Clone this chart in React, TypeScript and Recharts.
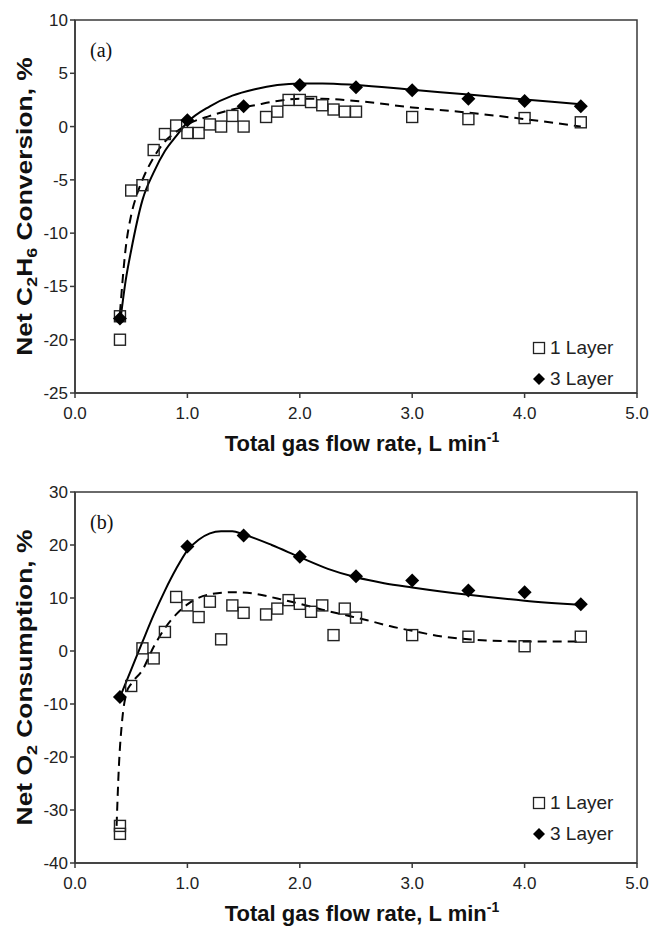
import React from 'react';
import {
  ComposedChart,
  Line,
  Scatter,
  XAxis,
  YAxis,
  ReferenceArea,
  Legend,
} from 'recharts';

const xTicks = [0, 1, 2, 3, 4, 5];
const c2h6Ticks = [-25, -20, -15, -10, -5, 0, 5, 10];
const o2Ticks = [-40, -30, -20, -10, 0, 10, 20, 30];

// (a) Net C2H6 conversion, %
const c2h6OneX = [0.4, 0.4, 0.5, 0.6, 0.7, 0.8, 0.9, 1.0, 1.1, 1.2, 1.3, 1.4, 1.5, 1.7, 1.8, 1.9, 2.0, 2.1, 2.2, 2.3, 2.4, 2.5, 3.0, 3.5, 4.0, 4.5];
const c2h6OneY = [-17.8, -20.0, -6.0, -5.5, -2.2, -0.7, 0.1, -0.6, -0.6, 0.2, 0.0, 1.0, 0.0, 0.9, 1.4, 2.5, 2.5, 2.3, 2.0, 1.6, 1.4, 1.4, 0.9, 0.7, 0.8, 0.4];
const c2h6ThreeX = [0.4, 1.0, 1.5, 2.0, 2.5, 3.0, 3.5, 4.0, 4.5];
const c2h6ThreeY = [-18.0, 0.6, 1.9, 3.9, 3.7, 3.4, 2.6, 2.4, 1.9];

// fitted curves
const c2h6OneFitX = [0.4, 0.45, 0.5, 0.55, 0.6, 0.7, 0.8, 0.9, 1.0, 1.2, 1.4, 1.6, 1.8, 2.0, 2.2, 2.5, 3.0, 3.5, 4.0, 4.5];
const c2h6OneFitY = [-17.5, -11.5, -8.3, -6.4, -5.0, -2.9, -1.4, -0.5, 0.2, 1.0, 1.6, 2.0, 2.4, 2.6, 2.6, 2.4, 1.8, 1.3, 0.7, 0.0];
const c2h6ThreeFitX = [0.4, 0.45, 0.5, 0.6, 0.7, 0.8, 0.9, 1.0, 1.2, 1.4, 1.6, 1.8, 2.0, 2.2, 2.5, 3.0, 3.5, 4.0, 4.5];
const c2h6ThreeFitY = [-18.5, -14.5, -11.6, -6.9, -4.3, -2.3, -0.9, 0.4, 1.9, 2.9, 3.5, 3.9, 4.05, 4.05, 3.9, 3.45, 3.0, 2.55, 2.1];

// (b) Net O2 consumption, %
const o2OneX = [0.4, 0.4, 0.5, 0.6, 0.7, 0.8, 0.9, 1.0, 1.1, 1.2, 1.3, 1.4, 1.5, 1.7, 1.8, 1.9, 2.0, 2.1, 2.2, 2.3, 2.4, 2.5, 3.0, 3.5, 4.0, 4.5];
const o2OneY = [-33.0, -34.5, -6.6, 0.5, -1.4, 3.6, 10.2, 8.6, 6.4, 9.3, 2.2, 8.6, 7.2, 6.9, 8.0, 9.6, 8.9, 7.4, 8.6, 3.0, 8.0, 6.3, 3.0, 2.7, 0.9, 2.7];
const o2ThreeX = [0.4, 1.0, 1.5, 2.0, 2.5, 3.0, 3.5, 4.0, 4.5];
const o2ThreeY = [-8.7, 19.7, 21.8, 17.8, 14.1, 13.3, 11.4, 11.1, 8.8];

const o2OneFitX = [0.37, 0.39, 0.42, 0.46, 0.5, 0.6, 0.7, 0.8, 0.9, 1.0, 1.2, 1.4, 1.6, 1.8, 2.0, 2.2, 2.4, 2.6, 2.8, 3.0, 3.25, 3.5, 4.0, 4.5];
const o2OneFitY = [-33, -22, -13, -7.8, -6.2, -3.6, 0.8, 4.3, 6.9, 8.8, 10.7, 11.1, 10.8, 9.9, 8.9, 7.8, 6.8, 5.8, 4.7, 3.8, 2.8, 2.2, 1.8, 1.8];
const o2ThreeFitX = [0.4, 0.5, 0.6, 0.7, 0.8, 0.9, 1.0, 1.1, 1.2, 1.3, 1.4, 1.5, 1.75, 2.0, 2.25, 2.5, 2.75, 3.0, 3.5, 4.0, 4.5];
const o2ThreeFitY = [-8.7, -3.5, 1.7, 6.8, 11.4, 15.5, 19.0, 21.0, 22.2, 22.6, 22.6, 22.0, 20.0, 17.7, 15.5, 13.9, 12.8, 12.0, 10.6, 9.5, 8.7];

const zip = (xs: number[], ys: number[]) => xs.map((x, i) => ({ x, y: ys[i] }));

const SANS = '"Liberation Sans", Arial, sans-serif';
const SERIF = '"Liberation Serif", "Times New Roman", serif';
const AXIS = '#3a3a3a';

const SquareDot = (props: any) => {
  const { cx, cy } = props;
  if (cx == null || cy == null) return null;
  return <rect x={cx - 5.5} y={cy - 5.5} width={11} height={11} fill="none" stroke="#222" strokeWidth={1.4} />;
};

const DiamondDot = (props: any) => {
  const { cx, cy } = props;
  if (cx == null || cy == null) return null;
  const r = 7;
  return <polygon points={`${cx},${cy - r} ${cx + r},${cy} ${cx},${cy + r} ${cx - r},${cy}`} fill="#000" />;
};

const LegendBox = () => (
  <div style={{ fontFamily: SANS, fontSize: 19, color: '#222', lineHeight: '31px' }}>
    <div style={{ display: 'flex', alignItems: 'center' }}>
      <svg width={18} height={14} style={{ marginRight: 2 }}>
        <rect x={3.5} y={1.5} width={11} height={11} fill="none" stroke="#222" strokeWidth={1.3} />
      </svg>
      <span>1 Layer</span>
    </div>
    <div style={{ display: 'flex', alignItems: 'center' }}>
      <svg width={18} height={14} style={{ marginRight: 2 }}>
        <polygon points="9,1 15,7 9,13 3,7" fill="#000" />
      </svg>
      <span>3 Layer</span>
    </div>
  </div>
);

const XTitle = ({ viewBox }: any) => (
  <text
    x={viewBox.x + viewBox.width / 2 + 6}
    y={viewBox.y + 58}
    textAnchor="middle"
    fontFamily={SANS}
    fontWeight="bold"
    fontSize={22}
    fill="#111"
  >
    Total gas flow rate, L min
    <tspan dy={-9} fontSize={14}>-1</tspan>
  </text>
);

// vertical titles are stretched along their length, as in the source figure
const yTitleTransform = (viewBox: any) => {
  const x = 32;
  const y = viewBox.y + viewBox.height / 2;
  return `translate(${x}, ${y}) rotate(-90) scale(1.2, 1)`;
};

const C2H6Title = ({ viewBox }: any) => (
  <text x={0} y={0} transform={yTitleTransform(viewBox)} textAnchor="middle" fontFamily={SANS} fontWeight="bold" fontSize={22} fill="#111">
    Net C<tspan dy={5} fontSize={15}>2</tspan>
    <tspan dy={-5}>H</tspan>
    <tspan dy={5} fontSize={15}>6</tspan>
    <tspan dy={-5}> Conversion, %</tspan>
  </text>
);

const O2Title = ({ viewBox }: any) => (
  <text x={0} y={0} transform={yTitleTransform(viewBox)} textAnchor="middle" fontFamily={SANS} fontWeight="bold" fontSize={22} fill="#111">
    Net O<tspan dy={5} fontSize={15}>2</tspan>
    <tspan dy={-5}> Consumption, %</tspan>
  </text>
);

const tagLabel = (tag: string) => ({ viewBox }: any) => (
  <text x={viewBox.x + 15} y={viewBox.y + 37} fontFamily={SERIF} fontSize={20} fill="#111">
    {tag}
  </text>
);

interface PanelProps {
  height: number;
  top: number;
  xAxisHeight: number;
  yDomain: [number, number];
  yTicks: number[];
  oneLayer: { x: number; y: number }[];
  threeLayer: { x: number; y: number }[];
  oneFit: { x: number; y: number }[];
  threeFit: { x: number; y: number }[];
  tag: string;
  yTitle: (p: any) => React.ReactElement;
  legendTop: number;
}

function Panel(p: PanelProps) {
  const tickStyle = { fontFamily: SANS, fontSize: 17, fill: '#222' };
  return (
    <ComposedChart width={649} height={p.height} margin={{ top: p.top, right: 12, left: 0, bottom: 0 }}>
      <XAxis
        type="number"
        dataKey="x"
        domain={[0, 5]}
        ticks={xTicks}
        tickFormatter={(v: number) => v.toFixed(1)}
        height={p.xAxisHeight}
        stroke={AXIS}
        strokeWidth={1.5}
        tickSize={5}
        tickMargin={9}
        tick={tickStyle}
        allowDataOverflow
        label={{ content: XTitle }}
      />
      <YAxis
        type="number"
        dataKey="y"
        domain={p.yDomain}
        ticks={p.yTicks}
        width={75}
        stroke={AXIS}
        strokeWidth={1.5}
        tickSize={5}
        tickMargin={2}
        tick={tickStyle}
        allowDataOverflow
        label={{ content: p.yTitle }}
      />
      <ReferenceArea
        x1={0}
        x2={5}
        y1={p.yDomain[0]}
        y2={p.yDomain[1]}
        fill="none"
        stroke={AXIS}
        strokeWidth={1.5}
        label={{ content: tagLabel(p.tag) }}
      />
      <Line data={p.oneFit} dataKey="y" type="monotone" stroke="#000" strokeWidth={2} strokeDasharray="9 6" dot={false} activeDot={false} isAnimationActive={false} />
      <Line data={p.threeFit} dataKey="y" type="monotone" stroke="#000" strokeWidth={2} dot={false} activeDot={false} isAnimationActive={false} />
      <Scatter name="1 Layer" data={p.oneLayer} dataKey="y" shape={SquareDot} isAnimationActive={false} />
      <Scatter name="3 Layer" data={p.threeLayer} dataKey="y" shape={DiamondDot} isAnimationActive={false} />
      <Legend
        layout="horizontal"
        align="center"
        verticalAlign="middle"
        content={LegendBox}
        wrapperStyle={{ left: 530, top: p.legendTop, width: 110, height: 62 }}
      />
    </ComposedChart>
  );
}

export default function App() {
  return (
    <div style={{ position: 'absolute', left: 0, top: 0, width: 649, height: 927, background: '#fff' }}>
      <Panel
        height={460}
        top={20}
        xAxisHeight={67}
        yDomain={[-25, 10]}
        yTicks={c2h6Ticks}
        oneLayer={zip(c2h6OneX, c2h6OneY)}
        threeLayer={zip(c2h6ThreeX, c2h6ThreeY)}
        oneFit={zip(c2h6OneFitX, c2h6OneFitY)}
        threeFit={zip(c2h6ThreeFitX, c2h6ThreeFitY)}
        tag="(a)"
        yTitle={C2H6Title}
        legendTop={332}
      />
      <Panel
        height={467}
        top={32}
        xAxisHeight={64}
        yDomain={[-40, 30]}
        yTicks={o2Ticks}
        oneLayer={zip(o2OneX, o2OneY)}
        threeLayer={zip(o2ThreeX, o2ThreeY)}
        oneFit={zip(o2OneFitX, o2OneFitY)}
        threeFit={zip(o2ThreeFitX, o2ThreeFitY)}
        tag="(b)"
        yTitle={O2Title}
        legendTop={327}
      />
    </div>
  );
}
